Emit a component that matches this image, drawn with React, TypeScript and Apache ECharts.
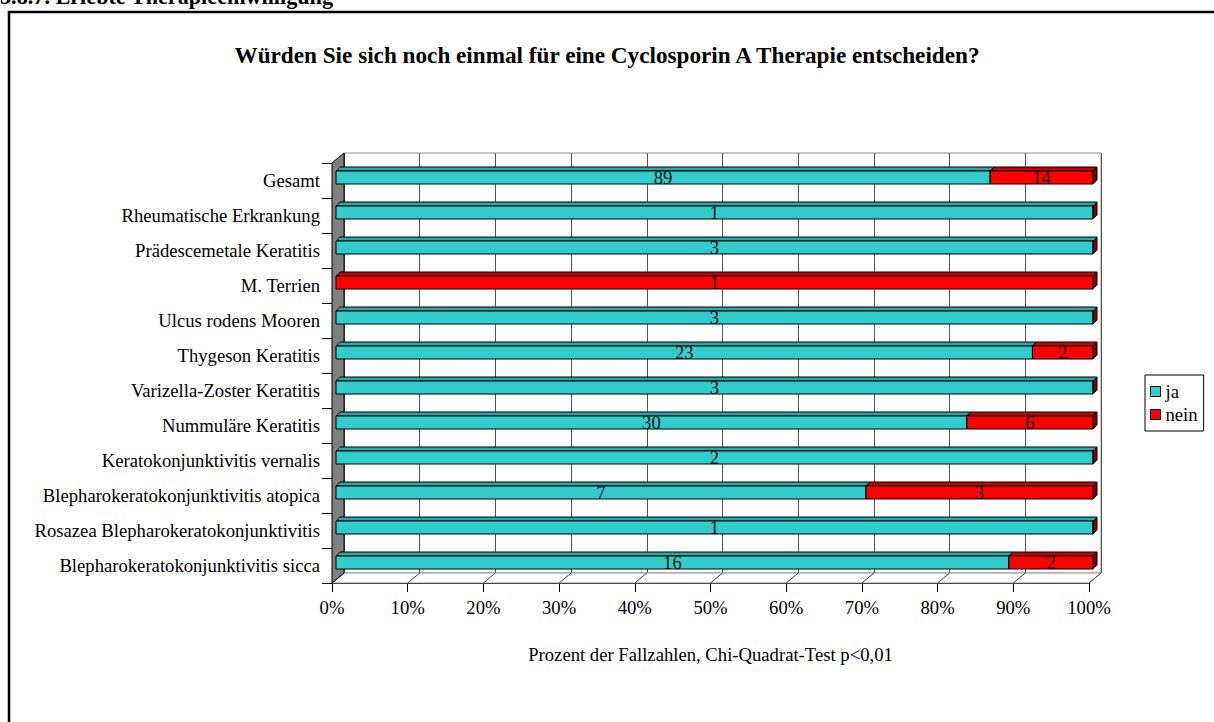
import React, { useEffect, useRef } from 'react';
import * as echarts from 'echarts';

// ---- data ----
const categories = [
  'Gesamt',
  'Rheumatische Erkrankung',
  'Prädescemetale Keratitis',
  'M. Terrien',
  'Ulcus rodens Mooren',
  'Thygeson Keratitis',
  'Varizella-Zoster Keratitis',
  'Nummuläre Keratitis',
  'Keratokonjunktivitis vernalis',
  'Blepharokeratokonjunktivitis atopica',
  'Rosazea Blepharokeratokonjunktivitis',
  'Blepharokeratokonjunktivitis sicca',
];
const jaCounts = [89, 1, 3, 0, 3, 23, 3, 30, 2, 7, 1, 16];
const neinCounts = [14, 0, 0, 1, 0, 2, 0, 6, 0, 3, 0, 2];
const xTicks = [0, 10, 20, 30, 40, 50, 60, 70, 80, 90, 100];
const seriesNames = ['ja', 'nein'];
const chartTitle = 'Würden Sie sich noch einmal für eine Cyclosporin A Therapie entscheiden?';
const xAxisName = 'Prozent der Fallzahlen, Chi-Quadrat-Test p<0,01';
const heading = '3.8.7. Erlebte Therapieeinwilligung';

// ---- layout / style ----
const FONT = "'Liberation Serif', 'Times New Roman', serif";
const FS = 18.67;
const W = 1214;
const H = 722;
const FRONT_LEFT = 332;
const FRONT_RIGHT = 1089;
const FRONT_TOP = 163;
const FRONT_BOTTOM = 583;
const DEPTH_X = 12;
const DEPTH_Y = -10;
const BAR_DX = 4;
const BAR_SHIFT = -3;
const BAR_H = 13;
const BAR_D = 4;

const TEAL = '#33CCCC';
const TEAL_TOP = '#2AA8A8';
const RED = '#FF0000';
const RED_TOP = '#CC0000';
const RED_SIDE = '#800000';

function makeRender(fill: string, topFill: string, isLast: boolean) {
  return (params: any, api: any) => {
    const start = api.value(0);
    const end = api.value(1);
    const cat = api.value(2);
    const count = api.value(3);
    const p0 = api.coord([start, cat]);
    const p1 = api.coord([end, cat]);
    const x1 = p0[0] + BAR_DX;
    const x2 = p1[0] + BAR_DX;
    const yc = p0[1] + BAR_SHIFT;
    const yt = yc - BAR_H / 2;
    const yb = yc + BAR_H / 2;
    const children: any[] = [];
    if (x2 - x1 > 0.5) {
      children.push({
        type: 'polygon',
        shape: { points: [[x1, yt], [x2, yt], [x2 + BAR_D, yt - BAR_D], [x1 + BAR_D, yt - BAR_D]] },
        style: { fill: topFill, stroke: '#000', lineWidth: 1 },
      });
      children.push({
        type: 'rect',
        shape: { x: x1, y: yt, width: x2 - x1, height: BAR_H },
        style: { fill, stroke: '#000', lineWidth: 1 },
      });
    }
    if (isLast) {
      children.push({
        type: 'polygon',
        shape: { points: [[x2, yt], [x2 + BAR_D, yt - BAR_D], [x2 + BAR_D, yb - BAR_D], [x2, yb]] },
        style: { fill: RED_SIDE, stroke: '#000', lineWidth: 1 },
      });
    }
    if (count > 0) {
      children.push({
        type: 'text',
        style: {
          text: String(count),
          x: (x1 + x2) / 2,
          y: yc,
          align: 'center',
          verticalAlign: 'middle',
          fontSize: FS,
          fontFamily: FONT,
          fill: '#111',
        },
      });
    }
    return { type: 'group', children };
  };
}

export default function App() {
  const ref = useRef<HTMLDivElement>(null);
  useEffect(() => {
    if (!ref.current) return;
    const chart = echarts.init(ref.current, null, { renderer: 'svg' });

    const jaData = categories.map((_, i) => {
      const tot = jaCounts[i] + neinCounts[i];
      return [0, (jaCounts[i] / tot) * 100, i, jaCounts[i]];
    });
    const neinData = categories.map((_, i) => {
      const tot = jaCounts[i] + neinCounts[i];
      return [(jaCounts[i] / tot) * 100, 100, i, neinCounts[i]];
    });

    const step = (FRONT_RIGHT - FRONT_LEFT) / 100;
    const floorLines = xTicks.map((t) => ({
      type: 'line',
      z: 1,
      shape: {
        x1: FRONT_LEFT + t * step,
        y1: FRONT_BOTTOM,
        x2: FRONT_LEFT + t * step + DEPTH_X,
        y2: FRONT_BOTTOM + DEPTH_Y,
      },
      style: { stroke: '#404040', lineWidth: 1 },
    }));

    chart.setOption({
      animation: false,
      backgroundColor: '#fff',
      title: {
        text: chartTitle,
        left: 'center',
        top: 38,
        textStyle: { fontFamily: FONT, fontSize: 23.2, fontWeight: 'bold', color: '#000' },
      },
      legend: {
        data: seriesNames,
        orient: 'vertical',
        left: 1145,
        top: 375,
        icon: 'rect',
        itemWidth: 10,
        itemHeight: 10,
        itemGap: 4,
        itemStyle: { borderColor: '#000', borderWidth: 1 },
        padding: [7, 6, 7, 5],
        borderColor: '#000',
        borderWidth: 1,
        backgroundColor: '#fff',
        textStyle: { fontFamily: FONT, fontSize: FS, color: '#000' },
      },
      grid: [
        {
          left: FRONT_LEFT,
          right: W - FRONT_RIGHT,
          top: FRONT_TOP,
          bottom: H - FRONT_BOTTOM,
        },
        {
          left: FRONT_LEFT + DEPTH_X,
          right: W - FRONT_RIGHT - DEPTH_X,
          top: FRONT_TOP + DEPTH_Y,
          bottom: H - FRONT_BOTTOM - DEPTH_Y,
          show: true,
          backgroundColor: '#fff',
          borderColor: '#909090',
          borderWidth: 1,
          z: -1,
        },
      ],
      xAxis: [
        {
          type: 'value',
          gridIndex: 0,
          min: 0,
          max: 100,
          interval: 10,
          name: xAxisName,
          nameLocation: 'middle',
          nameGap: 62,
          nameTextStyle: { fontFamily: FONT, fontSize: FS, color: '#000' },
          axisLine: { show: true, lineStyle: { color: '#000', width: 1 } },
          axisTick: { show: true, length: 9, lineStyle: { color: '#000' } },
          axisLabel: {
            fontFamily: FONT,
            fontSize: FS,
            color: '#000',
            margin: 15,
            formatter: (v: number) => Math.round(v) + '%',
          },
          splitLine: { show: false },
        },
        {
          type: 'value',
          gridIndex: 1,
          min: 0,
          max: 100,
          interval: 10,
          axisLine: { show: false },
          axisTick: { show: false },
          axisLabel: { show: false },
          splitLine: { show: true, lineStyle: { color: '#555', width: 1 } },
        },
      ],
      yAxis: [
        {
          type: 'category',
          gridIndex: 0,
          data: categories,
          inverse: true,
          axisLine: { show: true, lineStyle: { color: '#000', width: 1 } },
          axisTick: { show: true, length: 10, lineStyle: { color: '#000' } },
          axisLabel: { fontFamily: FONT, fontSize: FS, color: '#000', margin: 12 },
          splitLine: { show: false },
        },
        {
          type: 'value',
          gridIndex: 1,
          show: false,
          splitLine: { show: false },
        },
      ],
      graphic: [
        {
          type: 'text',
          left: 0,
          top: -15,
          style: {
            text: heading,
            fontFamily: FONT,
            fontSize: 22.2,
            fontWeight: 'bold',
            fill: '#000',
          },
        },
        {
          type: 'rect',
          shape: { x: 9, y: 12, width: 1230, height: 740 },
          style: { fill: 'none', stroke: '#000', lineWidth: 2.5 },
          silent: true,
        },
        {
          type: 'polygon',
          z: 1,
          shape: {
            points: [
              [FRONT_LEFT, FRONT_BOTTOM],
              [FRONT_RIGHT, FRONT_BOTTOM],
              [FRONT_RIGHT + DEPTH_X, FRONT_BOTTOM + DEPTH_Y],
              [FRONT_LEFT + DEPTH_X, FRONT_BOTTOM + DEPTH_Y],
            ],
          },
          style: { fill: '#fff', stroke: '#909090', lineWidth: 1 },
        },
        ...floorLines,
        {
          type: 'polygon',
          z: 1,
          shape: {
            points: [
              [FRONT_LEFT, FRONT_BOTTOM],
              [FRONT_LEFT, FRONT_TOP],
              [FRONT_LEFT + DEPTH_X, FRONT_TOP + DEPTH_Y],
              [FRONT_LEFT + DEPTH_X, FRONT_BOTTOM + DEPTH_Y],
            ],
          },
          style: { fill: '#808080', stroke: '#000', lineWidth: 1 },
        },
      ],
      series: [
        {
          name: 'ja',
          type: 'custom',
          xAxisIndex: 0,
          yAxisIndex: 0,
          z: 3,
          itemStyle: { color: TEAL, borderColor: '#000', borderWidth: 1 },
          encode: { x: [0, 1], y: 2 },
          renderItem: makeRender(TEAL, TEAL_TOP, false),
          data: jaData,
        },
        {
          name: 'nein',
          type: 'custom',
          xAxisIndex: 0,
          yAxisIndex: 0,
          z: 3,
          itemStyle: { color: RED, borderColor: '#000', borderWidth: 1 },
          encode: { x: [0, 1], y: 2 },
          renderItem: makeRender(RED, RED_TOP, true),
          data: neinData,
        },
      ],
    });
    return () => chart.dispose();
  }, []);
  return <div ref={ref} style={{ position: 'fixed', left: 0, top: 0, width: W, height: H }} />;
}
